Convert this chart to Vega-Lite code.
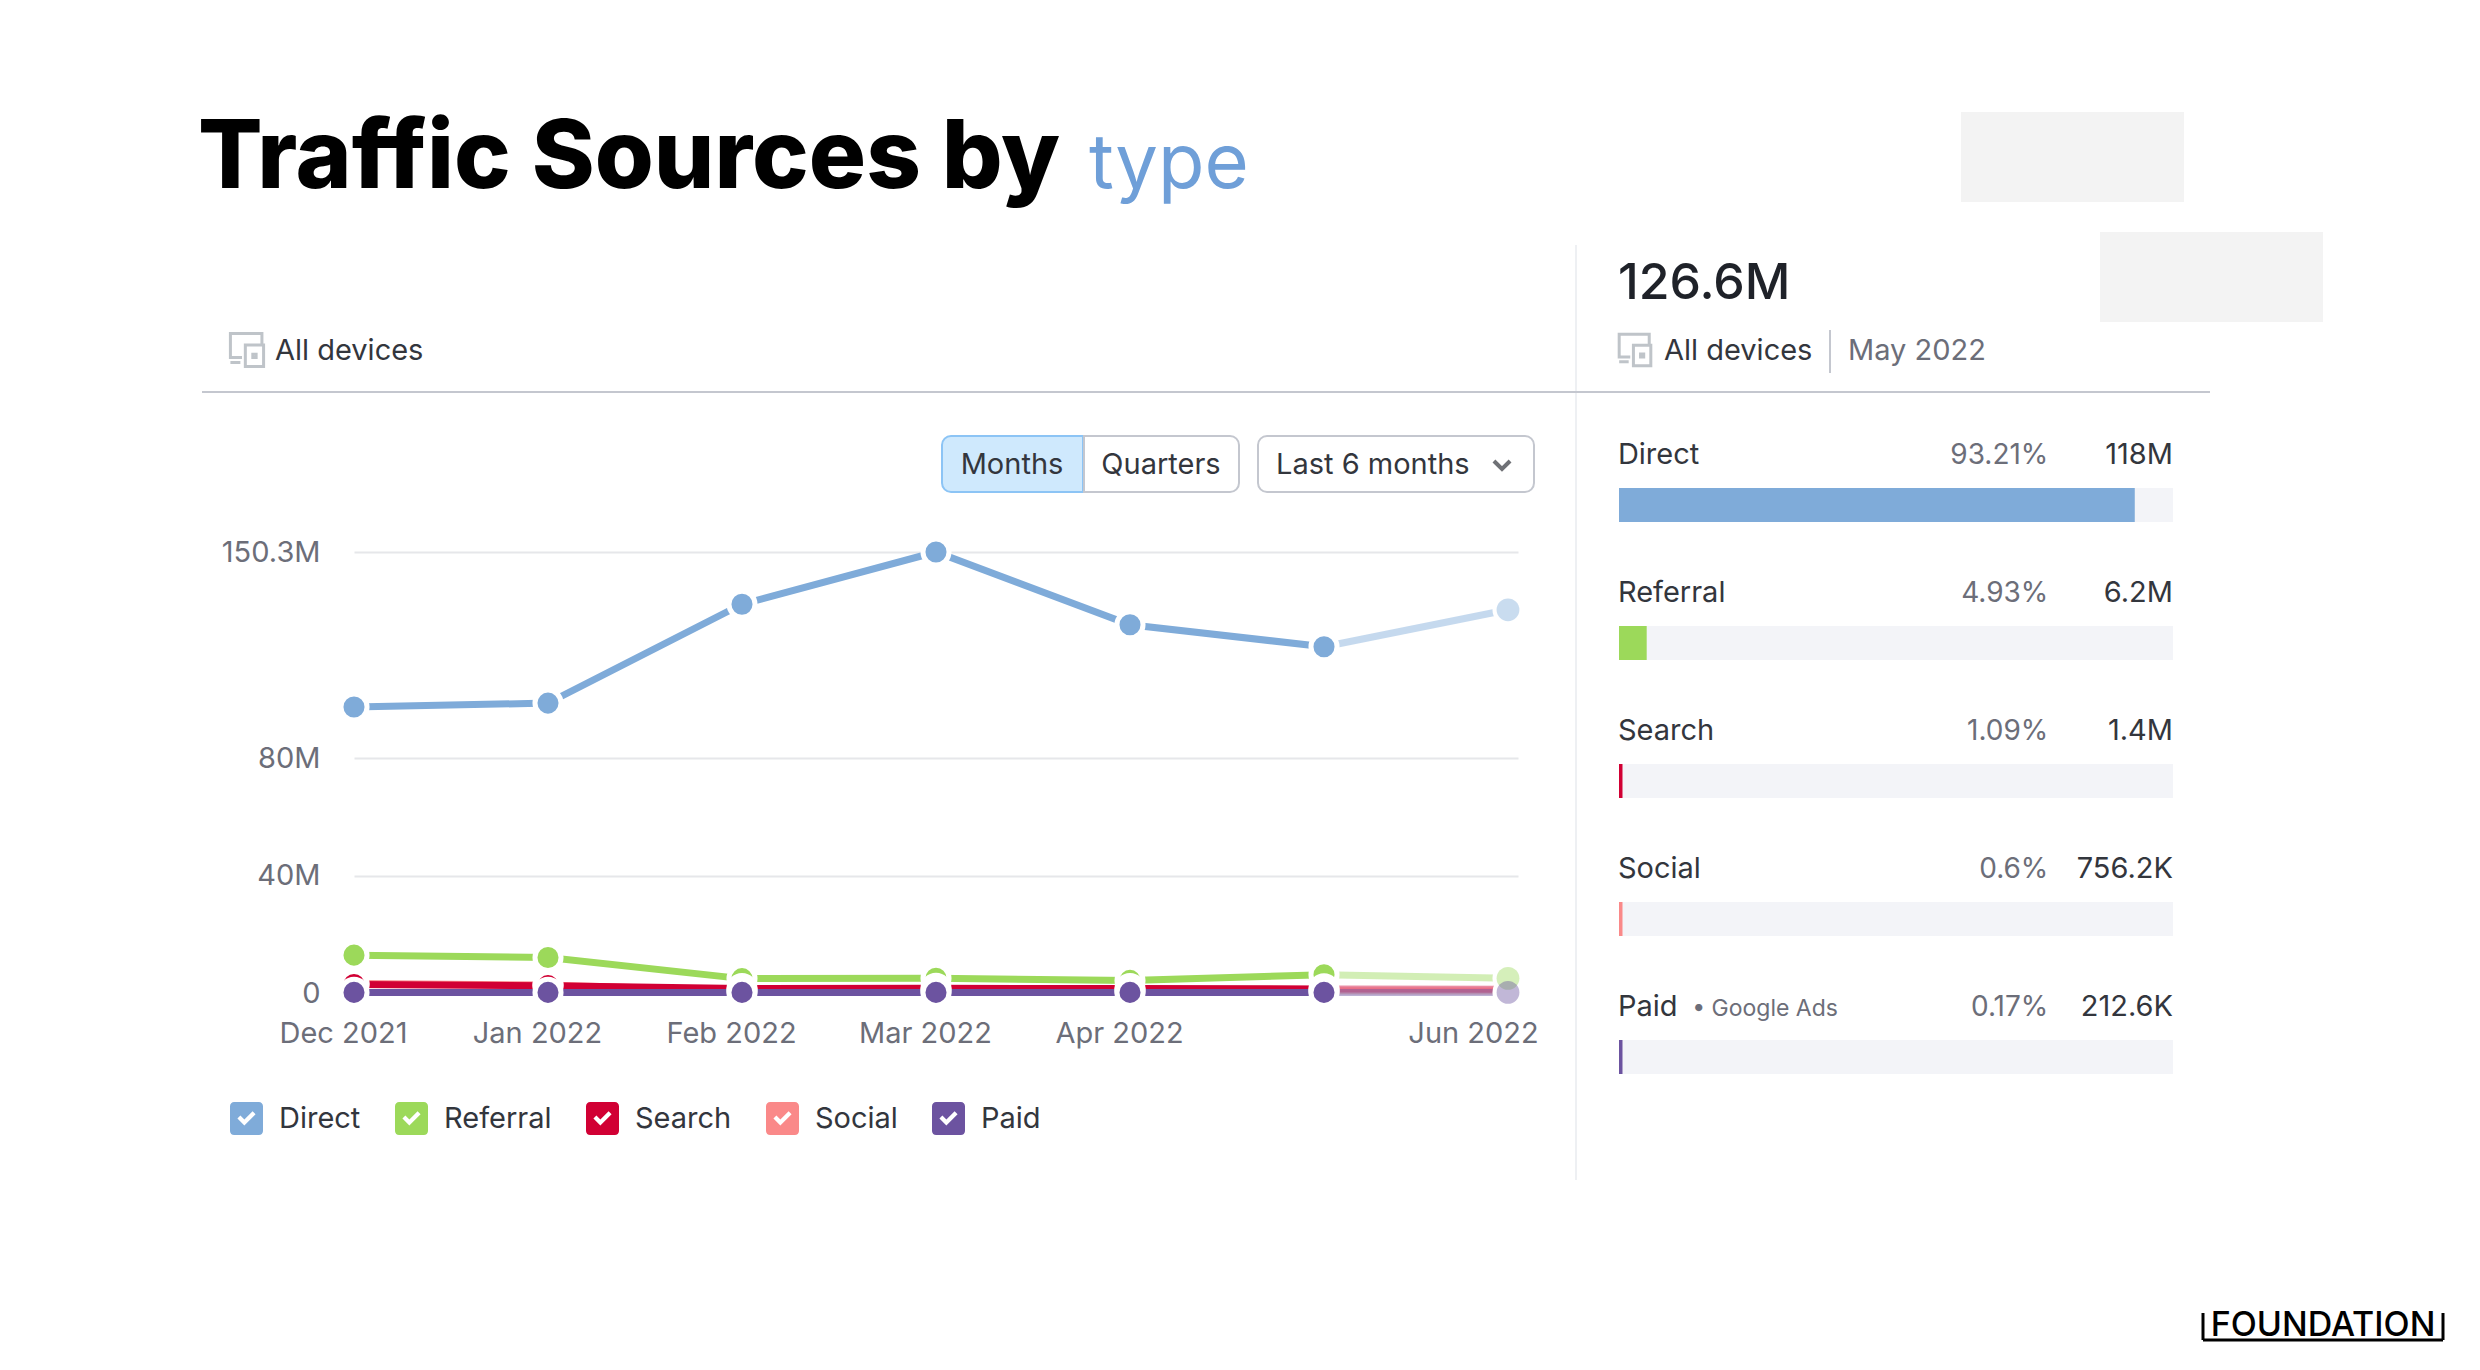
{"$schema":"https://vega.github.io/schema/vega-lite/v6.json","padding":0,"background":"#ffffff","bounds":"flush","spacing":1518,"config":{"view":{"stroke":null},"font":"Inter","text":{"font":"Inter"}},"hconcat":[{"bounds":"flush","spacing":0,"vconcat":[{"width":1518,"height":552,"data":{"values":[{"label":"Traffic Sources by"}]},"layer":[{"mark":{"type":"text","align":"left","baseline":"alphabetic","fontSize":95.5,"fontWeight":800,"color":"#000000"},"encoding":{"x":{"datum":198,"axis":null,"scale":{"domain":[0,1518],"nice":false}},"y":{"datum":188,"axis":null,"scale":{"domain":[552,0],"nice":false}},"text":{"field":"label"}}},{"data":{"values":[{"label":"type"}]},"mark":{"type":"text","align":"left","baseline":"alphabetic","fontSize":76,"fontWeight":400,"color":"#6f9fd8"},"encoding":{"x":{"datum":1089,"axis":null},"y":{"datum":188,"axis":null},"text":{"field":"label"}}},{"data":{"values":[{"label":"device icon"}]},"mark":{"type":"point","filled":false,"size":1100,"stroke":"#a5acb3","strokeWidth":3,"shape":"M-0.3,0.45H-1V-1H0.9V-0.35M-0.1,-0.3H1V1H-0.1ZM0.35,0.25h0.2v0.2h-0.2ZM-1,0.75H-0.4"},"encoding":{"x":{"datum":247,"axis":null},"y":{"datum":350,"axis":null}}},{"data":{"values":[{"label":"All devices"}]},"mark":{"type":"text","align":"left","baseline":"alphabetic","fontSize":29,"color":"#33363d"},"encoding":{"x":{"datum":275,"axis":null},"y":{"datum":360,"axis":null},"text":{"field":"label"}}},{"data":{"values":[{"label":"divider"}]},"mark":{"type":"rule","stroke":"#c4c7cf","strokeWidth":2},"encoding":{"x":{"datum":202,"axis":null},"x2":{"datum":1518},"y":{"datum":392,"axis":null}}},{"data":{"values":[{"label":"Months"}]},"mark":{"type":"rect","fill":"#cfe9fd","stroke":"#8cc4f5","strokeWidth":2,"cornerRadiusTopLeft":9,"cornerRadiusBottomLeft":9},"encoding":{"x":{"datum":942,"axis":null},"x2":{"datum":1083},"y":{"datum":436,"axis":null},"y2":{"datum":492}}},{"data":{"values":[{"label":"Quarters"}]},"mark":{"type":"rect","fill":"#ffffff","stroke":"#c4c7cf","strokeWidth":2,"cornerRadiusTopRight":9,"cornerRadiusBottomRight":9},"encoding":{"x":{"datum":1084,"axis":null},"x2":{"datum":1239},"y":{"datum":436,"axis":null},"y2":{"datum":492}}},{"data":{"values":[{"label":"Range"}]},"mark":{"type":"rect","fill":"#ffffff","stroke":"#c4c7cf","strokeWidth":2,"cornerRadius":9},"encoding":{"x":{"datum":1258,"axis":null},"x2":{"datum":1534},"y":{"datum":436,"axis":null},"y2":{"datum":492}}},{"data":{"values":[{"label":"Months"}]},"mark":{"type":"text","align":"center","baseline":"alphabetic","fontSize":29,"color":"#33363d"},"encoding":{"x":{"datum":1012,"axis":null},"y":{"datum":474,"axis":null},"text":{"field":"label"}}},{"data":{"values":[{"label":"Quarters"}]},"mark":{"type":"text","align":"center","baseline":"alphabetic","fontSize":29,"color":"#33363d"},"encoding":{"x":{"datum":1161,"axis":null},"y":{"datum":474,"axis":null},"text":{"field":"label"}}},{"data":{"values":[{"label":"Last 6 months"}]},"mark":{"type":"text","align":"left","baseline":"alphabetic","fontSize":29,"color":"#33363d"},"encoding":{"x":{"datum":1276,"axis":null},"y":{"datum":474,"axis":null},"text":{"field":"label"}}},{"data":{"values":[{"label":"chevron"}]},"mark":{"type":"point","filled":false,"size":260,"stroke":"#33363d","strokeWidth":4,"shape":"M-1,-0.5L0,0.5L1,-0.5"},"encoding":{"x":{"datum":1502,"axis":null},"y":{"datum":465,"axis":null}}}]},{"bounds":"flush","spacing":0,"hconcat":[{"width":354,"height":441,"data":{"values":[]},"mark":"text"},{"width":1164,"height":441,"data":{"values":[{"date":1638316800000,"source":"Direct","value":97500000,"status":"complete"},{"date":1640995200000,"source":"Direct","value":98800000,"status":"complete"},{"date":1643673600000,"source":"Direct","value":132500000,"status":"complete"},{"date":1646092800000,"source":"Direct","value":150300000,"status":"complete"},{"date":1648771200000,"source":"Direct","value":125500000,"status":"complete"},{"date":1651363200000,"source":"Direct","value":118000000,"status":"last"},{"date":1654041600000,"source":"Direct","value":130600000,"status":"partial"},{"date":1638316800000,"source":"Referral","value":12900000,"status":"complete"},{"date":1640995200000,"source":"Referral","value":12100000,"status":"complete"},{"date":1643673600000,"source":"Referral","value":4900000,"status":"complete"},{"date":1646092800000,"source":"Referral","value":5000000,"status":"complete"},{"date":1648771200000,"source":"Referral","value":4300000,"status":"complete"},{"date":1651363200000,"source":"Referral","value":6200000,"status":"last"},{"date":1654041600000,"source":"Referral","value":5000000,"status":"partial"},{"date":1638316800000,"source":"Social","value":3200000,"status":"complete"},{"date":1640995200000,"source":"Social","value":2700000,"status":"complete"},{"date":1643673600000,"source":"Social","value":800000,"status":"complete"},{"date":1646092800000,"source":"Social","value":800000,"status":"complete"},{"date":1648771200000,"source":"Social","value":800000,"status":"complete"},{"date":1651363200000,"source":"Social","value":756200,"status":"last"},{"date":1654041600000,"source":"Social","value":700000,"status":"partial"},{"date":1638316800000,"source":"Search","value":2900000,"status":"complete"},{"date":1640995200000,"source":"Search","value":2500000,"status":"complete"},{"date":1643673600000,"source":"Search","value":1500000,"status":"complete"},{"date":1646092800000,"source":"Search","value":1600000,"status":"complete"},{"date":1648771200000,"source":"Search","value":1500000,"status":"complete"},{"date":1651363200000,"source":"Search","value":1400000,"status":"last"},{"date":1654041600000,"source":"Search","value":1300000,"status":"partial"},{"date":1638316800000,"source":"Paid","value":200000,"status":"complete"},{"date":1640995200000,"source":"Paid","value":200000,"status":"complete"},{"date":1643673600000,"source":"Paid","value":200000,"status":"complete"},{"date":1646092800000,"source":"Paid","value":210000,"status":"complete"},{"date":1648771200000,"source":"Paid","value":210000,"status":"complete"},{"date":1651363200000,"source":"Paid","value":212600,"status":"last"},{"date":1654041600000,"source":"Paid","value":200000,"status":"partial"}]},"encoding":{"x":{"field":"date","type":"quantitative","title":null,"scale":{"type":"linear","zero":false,"nice":false,"domain":[1638316800000,1640995200000,1643673600000,1646092800000,1648771200000,1651363200000,1654041600000,1654646400000],"range":[0,194,388,582,776,970,1154,1164]},"axis":{"values":[1638316800000,1640995200000,1643673600000,1646092800000,1648771200000,1654041600000],"labelExpr":"utcFormat(datum.value,'%b %Y')","domain":false,"ticks":false,"grid":false,"labelFontSize":29,"labelFont":"Inter","labelColor":"#6c6e79","labelPadding":26,"labelOverlap":false,"labelFlush":false,"labelBound":false,"labelOffset":{"condition":{"test":"utcmonth(datum.value)===5","value":-35},"value":-11}}},"y":{"field":"value","type":"quantitative","title":null,"scale":{"domain":[0,150300000],"nice":false},"axis":{"values":[0,40000000,80000000,150300000],"labelExpr":"datum.value===0?'0':(datum.value/1000000)+'M'","domain":false,"ticks":false,"grid":true,"gridColor":"#e6e7ea","gridWidth":2,"labelFontSize":29,"labelFont":"Inter","labelColor":"#6c6e79","labelPadding":34}},"color":{"field":"source","type":"nominal","scale":{"domain":["Direct","Referral","Search","Social","Paid"],"range":["#7fabd9","#9cd95a","#d10034","#fa8989","#6c53a0"]},"legend":{"title":null,"orient":"none","legendX":230,"legendY":1102,"direction":"horizontal","columns":5,"symbolType":"M-0.75,-1H0.75A0.25,0.25 0 0 1 1,-0.75V0.75A0.25,0.25 0 0 1 0.75,1H-0.75A0.25,0.25 0 0 1 -1,0.75V-0.75A0.25,0.25 0 0 1 -0.75,-1ZM-0.55,0L-0.13,0.42L0.55,-0.26L0.37,-0.44L-0.13,0.06L-0.37,-0.18Z","symbolSize":1089,"symbolStrokeWidth":0,"symbolOpacity":1,"labelFontSize":29,"labelFont":"Inter","labelColor":"#33363d","labelOffset":16,"columnPadding":34,"labelLimit":300}}},"layer":[{"transform":[{"filter":"datum.status!='partial'"}],"mark":{"type":"line","strokeWidth":7}},{"transform":[{"filter":"datum.status!='complete'"}],"mark":{"type":"line","strokeWidth":7,"opacity":0.45}},{"transform":[{"filter":"datum.status!='partial'"}],"mark":{"type":"point","filled":true,"size":680,"shape":"circle","stroke":"#ffffff","strokeWidth":5,"strokeOpacity":1,"opacity":1}},{"transform":[{"filter":"datum.status=='partial'&&(datum.source=='Direct'||datum.source=='Referral'||datum.source=='Paid')"}],"mark":{"type":"point","filled":true,"size":680,"shape":"circle","fill":"#ffffff","stroke":"#ffffff","strokeWidth":5,"opacity":1},"encoding":{"color":{"value":"#ffffff"}}},{"transform":[{"filter":"datum.status=='partial'&&(datum.source=='Direct'||datum.source=='Referral'||datum.source=='Paid')"}],"mark":{"type":"point","filled":true,"size":520,"shape":"circle","opacity":0.42}}]}]}]},{"bounds":"flush","spacing":0,"vconcat":[{"width":962,"height":488,"data":{"values":[{"label":"126.6M"}]},"layer":[{"data":{"values":[{"label":"redaction"}]},"mark":{"type":"rect","fill":"#f3f3f3"},"encoding":{"x":{"datum":1961,"axis":null,"scale":{"domain":[1518,2480],"nice":false}},"x2":{"datum":2184},"y":{"datum":112,"axis":null,"scale":{"domain":[488,0],"nice":false}},"y2":{"datum":202}}},{"data":{"values":[{"label":"redaction"}]},"mark":{"type":"rect","fill":"#f3f3f3"},"encoding":{"x":{"datum":2100,"axis":null},"x2":{"datum":2323},"y":{"datum":232,"axis":null},"y2":{"datum":322}}},{"data":{"values":[{"label":"separator"}]},"mark":{"type":"rule","stroke":"#eef0f3","strokeWidth":2},"encoding":{"x":{"datum":1576,"axis":null},"y":{"datum":245,"axis":null},"y2":{"datum":488}}},{"mark":{"type":"text","align":"left","baseline":"alphabetic","fontSize":50,"fontWeight":500,"color":"#1f2229"},"encoding":{"x":{"datum":1618,"axis":null},"y":{"datum":299,"axis":null},"text":{"field":"label"}}},{"data":{"values":[{"label":"device icon"}]},"mark":{"type":"point","filled":false,"size":1000,"stroke":"#a5acb3","strokeWidth":3,"shape":"M-0.3,0.45H-1V-1H0.9V-0.35M-0.1,-0.3H1V1H-0.1ZM0.35,0.25h0.2v0.2h-0.2ZM-1,0.75H-0.4"},"encoding":{"x":{"datum":1635,"axis":null},"y":{"datum":350,"axis":null}}},{"data":{"values":[{"label":"All devices"}]},"mark":{"type":"text","align":"left","baseline":"alphabetic","fontSize":29,"color":"#33363d"},"encoding":{"x":{"datum":1664,"axis":null},"y":{"datum":360,"axis":null},"text":{"field":"label"}}},{"data":{"values":[{"label":"separator"}]},"mark":{"type":"rule","stroke":"#c4c7cf","strokeWidth":2},"encoding":{"x":{"datum":1830,"axis":null},"y":{"datum":330,"axis":null},"y2":{"datum":373}}},{"data":{"values":[{"label":"May 2022"}]},"mark":{"type":"text","align":"left","baseline":"alphabetic","fontSize":29,"color":"#6c6e79"},"encoding":{"x":{"datum":1848,"axis":null},"y":{"datum":360,"axis":null},"text":{"field":"label"}}},{"data":{"values":[{"label":"divider"}]},"mark":{"type":"rule","stroke":"#c4c7cf","strokeWidth":2},"encoding":{"x":{"datum":1518,"axis":null},"x2":{"datum":2210},"y":{"datum":392,"axis":null}}}]},{"bounds":"flush","spacing":0,"hconcat":[{"width":101,"height":692,"data":{"values":[{"label":"separator"}]},"mark":{"type":"rule","stroke":"#eef0f3","strokeWidth":2},"encoding":{"x":{"datum":1576,"axis":null,"scale":{"domain":[1518,1619],"nice":false}},"y":{"datum":0,"axis":null,"scale":{"domain":[692,0],"nice":false}},"y2":{"datum":692}}},{"width":554,"height":586,"data":{"values":[{"source":"Direct","barPct":93.1,"share":"93.21%","total":"118M"},{"source":"Referral","barPct":5,"share":"4.93%","total":"6.2M"},{"source":"Search","barPct":0.63,"share":"1.09%","total":"1.4M"},{"source":"Social","barPct":0.63,"share":"0.6%","total":"756.2K"},{"source":"Paid","barPct":0.63,"share":"0.17%","total":"212.6K","note":"•  Google Ads"}]},"encoding":{"y":{"field":"source","type":"nominal","sort":null,"axis":null,"title":null,"scale":{"paddingInner":0.7536,"paddingOuter":0,"domain":["Direct","Referral","Search","Social","Paid"]}}},"layer":[{"mark":{"type":"bar","fill":"#f3f4f8"},"encoding":{"x":{"datum":100,"axis":null,"scale":{"domain":[0,100],"nice":false}}}},{"mark":{"type":"bar"},"encoding":{"x":{"field":"barPct","type":"quantitative","axis":null},"color":{"field":"source","type":"nominal","legend":null,"scale":{"domain":["Direct","Referral","Search","Social","Paid"],"range":["#7fabd9","#9cd95a","#d10034","#fa8989","#6c53a0"]}}}},{"mark":{"type":"text","align":"left","baseline":"alphabetic","dy":-41,"fontSize":29,"color":"#33363d"},"encoding":{"x":{"datum":-0.2,"axis":null},"text":{"field":"source"}}},{"transform":[{"filter":"isValid(datum.note)"}],"mark":{"type":"text","align":"left","baseline":"alphabetic","dy":-41,"fontSize":23,"color":"#6c6e79"},"encoding":{"x":{"datum":13.2,"axis":null},"text":{"field":"note"}}},{"mark":{"type":"text","align":"right","baseline":"alphabetic","dy":-41,"fontSize":28,"color":"#6c6e79"},"encoding":{"x":{"datum":77.5,"axis":null},"text":{"field":"share"}}},{"mark":{"type":"text","align":"right","baseline":"alphabetic","dy":-41,"fontSize":29,"color":"#33363d"},"encoding":{"x":{"datum":100,"axis":null},"text":{"field":"total"}}}]},{"width":307,"height":882,"data":{"values":[{"label":"FOUNDATION"}]},"layer":[{"mark":{"type":"text","align":"center","baseline":"alphabetic","fontSize":34,"fontWeight":500,"color":"#000000","font":"Inter"},"encoding":{"x":{"datum":2323,"axis":null,"scale":{"domain":[2173,2480],"nice":false}},"y":{"datum":1336,"axis":null,"scale":{"domain":[1370,488],"nice":false}},"text":{"field":"label"}}},{"mark":{"type":"rule","stroke":"#000000","strokeWidth":3},"encoding":{"x":{"datum":2203,"axis":null},"x2":{"datum":2443},"y":{"datum":1340,"axis":null}}},{"mark":{"type":"rule","stroke":"#000000","strokeWidth":3},"encoding":{"x":{"datum":2203,"axis":null},"y":{"datum":1313,"axis":null},"y2":{"datum":1340}}},{"mark":{"type":"rule","stroke":"#000000","strokeWidth":3},"encoding":{"x":{"datum":2443,"axis":null},"y":{"datum":1313,"axis":null},"y2":{"datum":1340}}}]}]}]}]}
